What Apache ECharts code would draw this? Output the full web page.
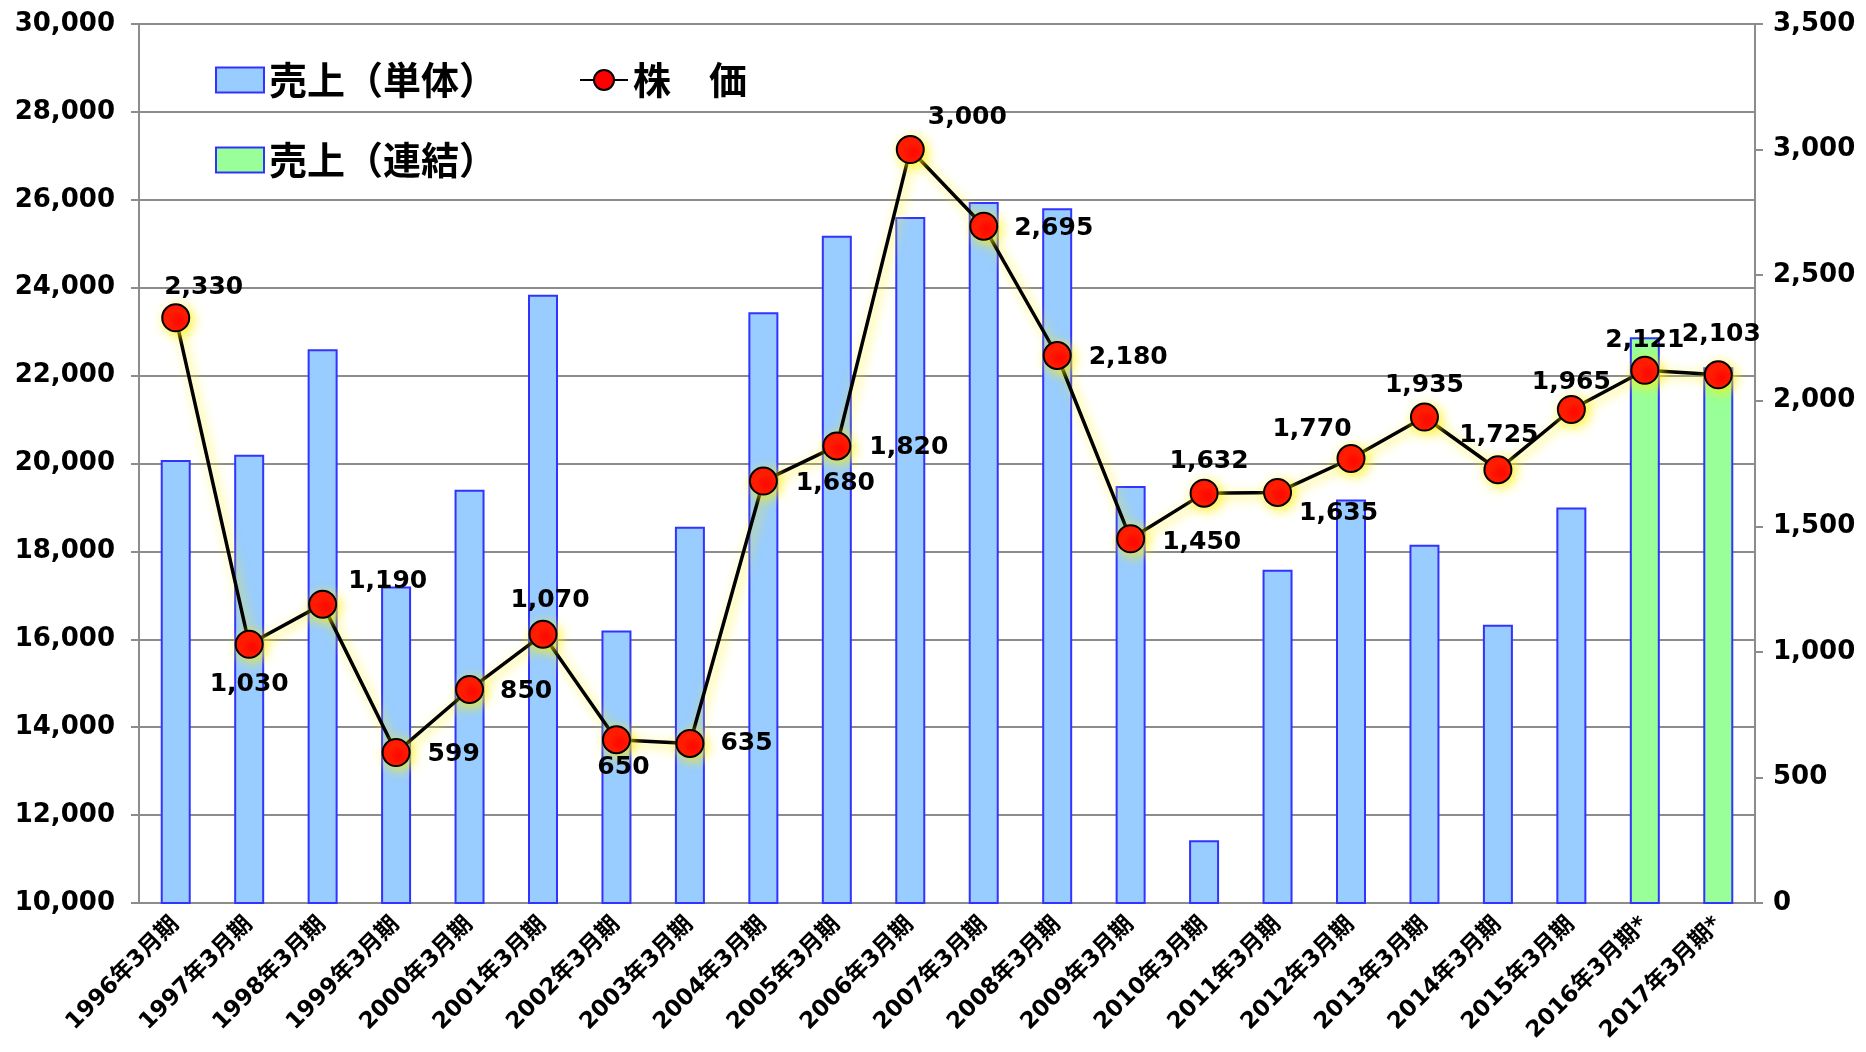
<!DOCTYPE html>
<html>
<head>
<meta charset="utf-8">
<script src="https://cdn.jsdelivr.net/npm/echarts@6/dist/echarts.min.js"></script>
<style>
  html, body { margin: 0; padding: 0; background: #fff; }
  #chart { width: 1866px; height: 1052px; }
</style>
</head>
<body>
<div id="chart"></div>
<script>
// categories (fiscal years)
var categories = ['1996年3月期', '1997年3月期', '1998年3月期', '1999年3月期', '2000年3月期',
  '2001年3月期', '2002年3月期', '2003年3月期', '2004年3月期', '2005年3月期', '2006年3月期',
  '2007年3月期', '2008年3月期', '2009年3月期', '2010年3月期', '2011年3月期', '2012年3月期',
  '2013年3月期', '2014年3月期', '2015年3月期', '2016年3月期*', '2017年3月期*']

// 売上（単体） - left axis
var salesSingle = [20080, 20200, 22600, 17200, 19400, 23840, 16200, 18560, 23440, 25180, 25610,
  25950, 25810, 19490, 11430, 17580, 19180, 18150, 16330, 19000, null, null]

// 売上（連結） - left axis
var salesConsolidated = [null, null, null, null, null, null, null, null, null, null, null,
  null, null, null, null, null, null, null, null, null, 22870, 22190]

// 株価 - right axis
var stockPrice = [2330, 1030, 1190, 599, 850, 1070, 650, 635, 1680, 1820, 3000,
  2695, 2180, 1450, 1632, 1635, 1770, 1935, 1725, 1965, 2121, 2103]

// where each price label sits [position, dx, dy]
var labelPlace = [
  ['top', 28, 2], ['bottom', 0, 8], ['right', 6, -23], ['right', 12, 2], ['right', 11, 2],
  ['top', 7, -2], ['bottom', 7, -4], ['right', 11, 0], ['right', 13, 2], ['right', 13, 2],
  ['top', 57, 0], ['right', 11, 2], ['right', 12, 2], ['right', 12, 4], ['top', 5, 0],
  ['right', 2, 21], ['top', -39, 3], ['top', 0, 0], ['top', 1, -2], ['top', 0, 5],
  ['top', 0, 2], ['top', 3, -8]
]

var FONT = 'DejaVu Sans, "Noto Sans CJK JP", sans-serif'
var CJK = '"Noto Sans CJK JP", sans-serif'
var fmt = function (v) { return Number(v).toLocaleString('en-US') }

var priceData = stockPrice.map(function (v, i) {
  return {
    value: v,
    label: {
      position: labelPlace[i][0],
      offset: [labelPlace[i][1], labelPlace[i][2]]
    }
  }
})

var legendText = { fontSize: 38, fontWeight: 'bold', color: '#000', fontFamily: CJK }

var chart = echarts.init(document.getElementById('chart'))
chart.setOption({
  backgroundColor: '#fff',
  animation: false,
  grid: {
    left: 139,
    right: 111,
    top: 24,
    bottom: 149
  },
  legend: [{
    data: [{ name: '売上（単体）', icon: 'rect' }, { name: '株　価' }],
    left: 210,
    top: 56,
    itemWidth: 48,
    itemHeight: 25,
    itemGap: 82,
    textStyle: legendText
  }, {
    data: [{ name: '売上（連結）', icon: 'rect' }],
    left: 210,
    top: 136,
    itemWidth: 48,
    itemHeight: 25,
    textStyle: legendText
  }],
  xAxis: {
    type: 'category',
    data: categories,
    axisLine: { lineStyle: { color: '#8c8c8c', width: 2 } },
    axisTick: { length: 9, lineStyle: { color: '#8c8c8c', width: 2 } },
    axisLabel: {
      rotate: 45,
      interval: 0,
      margin: 18,
      fontSize: 23,
      fontWeight: 'bold',
      color: '#000',
      fontFamily: FONT
    }
  },
  yAxis: [{
    type: 'value',
    min: 10000,
    max: 30000,
    interval: 2000,
    axisLine: { show: true, lineStyle: { color: '#8c8c8c', width: 2 } },
    axisTick: { show: true, length: 8, lineStyle: { color: '#8c8c8c', width: 2 } },
    splitLine: { lineStyle: { color: '#8c8c8c', width: 2 } },
    axisLabel: {
      margin: 24,
      fontSize: 26,
      fontWeight: 'bold',
      color: '#000',
      fontFamily: FONT,
      formatter: fmt
    }
  }, {
    type: 'value',
    min: 0,
    max: 3500,
    interval: 500,
    axisLine: { show: true, lineStyle: { color: '#8c8c8c', width: 2 } },
    axisTick: { show: true, length: 8, lineStyle: { color: '#8c8c8c', width: 2 } },
    splitLine: { show: false },
    axisLabel: {
      margin: 18,
      fontSize: 26,
      fontWeight: 'bold',
      color: '#000',
      fontFamily: FONT,
      formatter: fmt
    }
  }],
  series: [{
    name: '売上（単体）',
    type: 'bar',
    data: salesSingle,
    barWidth: 30,
    barGap: '-100%',
    itemStyle: { color: '#99ccff', borderColor: '#3333ff', borderWidth: 2 }
  }, {
    name: '売上（連結）',
    type: 'bar',
    data: salesConsolidated,
    barWidth: 30,
    barGap: '-100%',
    itemStyle: { color: '#99ff99', borderColor: '#3333ff', borderWidth: 2 }
  }, {
    name: '株　価',
    type: 'line',
    yAxisIndex: 1,
    data: priceData,
    symbol: 'circle',
    symbolSize: 27,
    z: 5,
    lineStyle: {
      color: '#000',
      width: 3.5,
      shadowColor: 'rgba(255, 240, 0, 0.8)',
      shadowBlur: 12,
      shadowOffsetX: 3,
      shadowOffsetY: 3
    },
    itemStyle: {
      color: '#ff0000',
      borderColor: '#000',
      borderWidth: 2,
      shadowColor: 'rgba(255, 240, 0, 0.8)',
      shadowBlur: 12,
      shadowOffsetX: 3,
      shadowOffsetY: 3
    },
    label: {
      show: true,
      fontSize: 25,
      fontWeight: 'bold',
      color: '#000',
      fontFamily: FONT,
      formatter: function (p) { return fmt(p.value) }
    }
  }]
})
</script>
</body>
</html>
